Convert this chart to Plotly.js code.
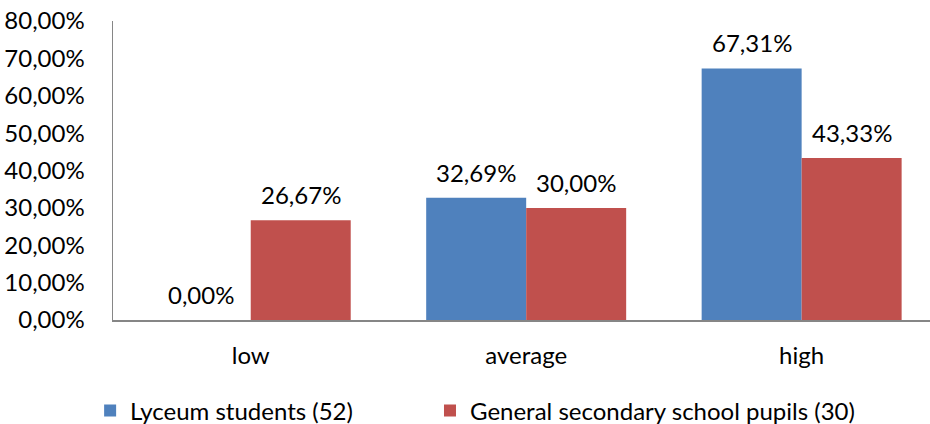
<!DOCTYPE html>
<html>
<head>
<meta charset="utf-8">
<script src="https://cdn.plot.ly/plotly-3.0.1.min.js"></script>
<style>html,body{margin:0;padding:0;background:#fff;}#chart{width:930px;height:424px;}</style>
</head>
<body>
<div id="chart"></div>
<script>
const categories = ["low", "average", "high"];
const seriesNames = ["Lyceum students (52)", "General secondary school pupils (30)"];
const lyceum = [0.00, 32.69, 67.31];
const general = [26.67, 30.00, 43.33];
const yTicks = [0, 10, 20, 30, 40, 50, 60, 70, 80];
const yTickText = yTicks.map(v => v.toFixed(2).replace(".", ",") + "%");

const FONT = "Lato, 'Open Sans', sans-serif";
const FS = 24;
const colors = ["#4F81BD", "#C0504D"];
const series = [lyceum, general];
const legendIds = ["legend", "legend2"];

const traces = series.map((vals, i) => ({
  type: "bar",
  name: seriesNames[i],
  x: categories,
  y: vals,
  marker: {color: colors[i], line: {width: 0}},
  legend: legendIds[i],
  hoverinfo: "none"
}));

// value labels above each bar, built from the data arrays
const fmt = v => v.toFixed(2).replace(".", ",") + "%";
const annotations = [];
series.forEach((vals, i) => {
  vals.forEach((v, j) => {
    annotations.push({
      x: categories[j], y: v, xref: "x", yref: "y",
      text: fmt(v), showarrow: false,
      xanchor: "center", yanchor: "bottom",
      xshift: i === 0 ? -50 : 50, yshift: 9,
      font: {family: FONT, size: FS, color: "#000"}
    });
  });
});

const legendBase = {
  orientation: "h", xanchor: "left", y: -0.304, yanchor: "middle",
  font: {family: FONT, size: FS, color: "#000"},
  itemclick: false, itemdoubleclick: false, bgcolor: "rgba(0,0,0,0)"
};

const layout = {
  width: 930, height: 424,
  margin: {l: 113, r: 0, t: 21, b: 104, autoexpand: false},
  paper_bgcolor: "#fff", plot_bgcolor: "#fff",
  font: {family: FONT, size: FS, color: "#000"},
  barmode: "group",
  bargap: 0.274,
  bargroupgap: 0,
  showlegend: true,
  legend: Object.assign({}, legendBase, {x: -0.028}),
  legend2: Object.assign({}, legendBase, {x: 0.388}),
  annotations: annotations,
  xaxis: {
    type: "category",
    range: [-0.5, 2.466],
    showline: true, linecolor: "#868686", linewidth: 1.5,
    showgrid: false, zeroline: false,
    ticks: "outside", ticklen: 14, tickcolor: "rgba(0,0,0,0)",
    tickfont: {family: FONT, size: FS, color: "#000"},
    automargin: false,
    fixedrange: true
  },
  yaxis: {
    range: [0, 80],
    tickvals: yTicks,
    ticktext: yTickText,
    showline: true, linecolor: "#868686", linewidth: 1.5,
    showgrid: false, zeroline: false,
    ticks: "outside", ticklen: 22, tickcolor: "rgba(0,0,0,0)",
    tickfont: {family: FONT, size: FS, color: "#000"},
    automargin: false,
    fixedrange: true
  }
};

Plotly.newPlot("chart", traces, layout, {displayModeBar: false, staticPlot: true});
</script>
</body>
</html>
